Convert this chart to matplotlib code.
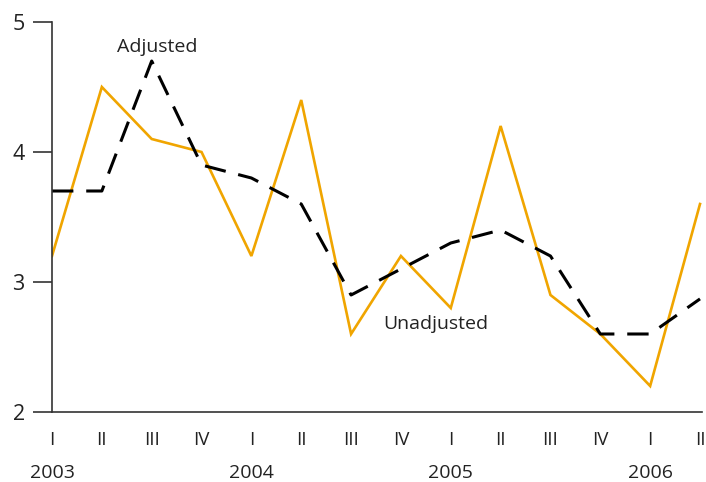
import matplotlib
matplotlib.use('Agg')
from matplotlib import pyplot as plt
from matplotlib.transforms import blended_transform_factory

plt.rcParams['font.family'] = ['Open Sans', 'DejaVu Sans']

# quarters 2003 Q1 .. 2006 Q2
quarters = ['I', 'II', 'III', 'IV', 'I', 'II', 'III', 'IV',
            'I', 'II', 'III', 'IV', 'I', 'II']
years = ['2003', '2004', '2005', '2006']
year_pos = [0, 4, 8, 12]

unadjusted = [3.2, 4.5, 4.1, 4.0, 3.2, 4.4, 2.6, 3.2, 2.8, 4.2, 2.9, 2.6, 2.2, 3.6]
adjusted = [3.7, 3.7, 4.7, 3.9, 3.8, 3.6, 2.9, 3.1, 3.3, 3.4, 3.2, 2.6, 2.6, 2.87]

x = list(range(len(quarters)))

fig = plt.figure(figsize=(7.06, 4.82), dpi=100)
ax = fig.add_axes([52 / 706, 70 / 482, 650 / 706, 390 / 482])

ax.plot(x, unadjusted, color='#F0A500', lw=1.9, solid_joinstyle='miter')
ax.plot(x, adjusted, color='black', lw=2.2, dashes=(7, 4.2))

ax.set_xlim(0, 13.04)
ax.set_ylim(2, 5)
ax.set_yticks([2, 3, 4, 5])
ax.tick_params(axis='y', length=13.7, width=1.2, color='#333333',
               labelsize=15.5, pad=6, labelcolor='#222222')
ax.set_xticks([])
for s in ['top', 'right']:
    ax.spines[s].set_visible(False)
for s in ['left', 'bottom']:
    ax.spines[s].set_color('#333333')
    ax.spines[s].set_linewidth(1.2)

tr = blended_transform_factory(ax.transData, fig.transFigure)
for i, q in enumerate(quarters):
    ax.text(i, 1 - 440 / 482, q, transform=tr, ha='center', va='center',
            fontsize=13.5, color='#222222')
for p, yr in zip(year_pos, years):
    ax.text(p, 1 - 473 / 482, yr, transform=tr, ha='center', va='center',
            fontsize=14, color='#222222')

ax.text(1.3, 4.81, 'Adjusted', fontsize=14, color='#222222', va='center')
ax.text(6.65, 2.68, 'Unadjusted', fontsize=14, color='#222222', va='center')

fig.savefig('out.png', dpi=100)
